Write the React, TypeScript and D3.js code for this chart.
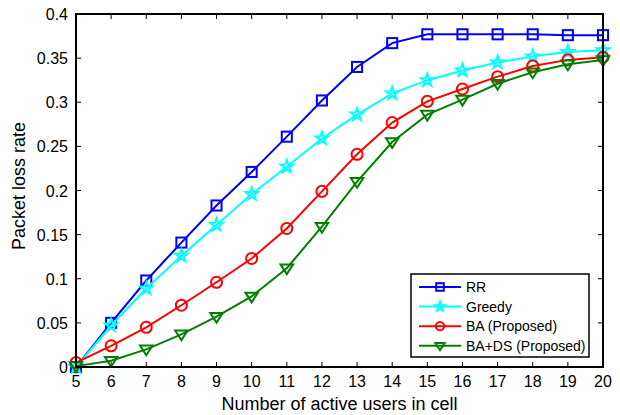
import React, { useRef, useEffect } from "react";
import * as d3 from "d3";

// data
const users = [5, 6, 7, 8, 9, 10, 11, 12, 13, 14, 15, 16, 17, 18, 19, 20];
const rr = [0, 0.05, 0.098, 0.141, 0.183, 0.221, 0.261, 0.302, 0.34, 0.367, 0.377, 0.377, 0.377, 0.377, 0.376, 0.376];
const greedy = [0, 0.047, 0.089, 0.126, 0.161, 0.196, 0.227, 0.259, 0.286, 0.31, 0.325, 0.336, 0.345, 0.352, 0.357, 0.359];
const ba = [0.005, 0.024, 0.045, 0.07, 0.096, 0.123, 0.157, 0.199, 0.241, 0.277, 0.301, 0.315, 0.329, 0.341, 0.348, 0.351];
const bads = [0.001, 0.007, 0.02, 0.037, 0.057, 0.08, 0.112, 0.159, 0.21, 0.255, 0.286, 0.303, 0.321, 0.334, 0.343, 0.348];
const seriesNames = ["RR", "Greedy", "BA (Proposed)", "BA+DS (Proposed)"];
const yTicks = [0, 0.05, 0.1, 0.15, 0.2, 0.25, 0.3, 0.35, 0.4];

const colors = ["#0000ff", "#00ffff", "#ff0000", "#008000"];
const shapes = ["square", "star", "circle", "triangle"];

const W = 620, H = 415;
const m = { left: 76, right: 603, top: 14, bottom: 367 };

// draws one marker at (x, y), s is roughly the marker width
function marker(g, shape, x, y, color, s) {
  if (shape === "square") {
    g.append("rect").attr("x", x - s * 0.42).attr("y", y - s * 0.42)
      .attr("width", s * 0.84).attr("height", s * 0.84)
      .attr("fill", "none").attr("stroke", color).attr("stroke-width", 2);
  } else if (shape === "circle") {
    g.append("circle").attr("cx", x).attr("cy", y).attr("r", s * 0.46)
      .attr("fill", "none").attr("stroke", color).attr("stroke-width", 2);
  } else if (shape === "triangle") {
    const r = s * 0.52;
    g.append("path")
      .attr("d", `M${x - r},${y - r * 0.6}L${x + r},${y - r * 0.6}L${x},${y + r * 0.95}Z`)
      .attr("fill", "none").attr("stroke", color).attr("stroke-width", 2);
  } else {
    // five point star, thin like matlab's pentagram
    const ro = s * 0.55, ri = ro * 0.4;
    const pts = d3.range(10).map((i) => {
      const a = -Math.PI / 2 + (i * Math.PI) / 5;
      const r = i % 2 ? ri : ro;
      return [x + r * Math.cos(a), y + r * Math.sin(a)];
    });
    g.append("path").attr("d", "M" + pts.join("L") + "Z")
      .attr("fill", "none").attr("stroke", color).attr("stroke-width", 2);
  }
}

const App = () => {
  const svgRef = useRef(null);

  useEffect(() => {
    const svg = d3.select(svgRef.current);
    svg.selectAll("*").remove();

    const x = d3.scaleLinear().domain([5, 20]).range([m.left, m.right]);
    const y = d3.scaleLinear().domain([0, 0.4]).range([m.bottom, m.top]);

    const font = "'Liberation Sans', Arial, sans-serif";

    // ticks on all four sides, pointing inwards
    const axes = svg.append("g").attr("stroke", "#000").attr("stroke-width", 1);
    users.forEach((u) => {
      axes.append("line").attr("x1", x(u)).attr("x2", x(u)).attr("y1", m.bottom).attr("y2", m.bottom - 5);
      axes.append("line").attr("x1", x(u)).attr("x2", x(u)).attr("y1", m.top).attr("y2", m.top + 5);
    });
    yTicks.forEach((t) => {
      axes.append("line").attr("x1", m.left).attr("x2", m.left + 5).attr("y1", y(t)).attr("y2", y(t));
      axes.append("line").attr("x1", m.right).attr("x2", m.right - 5).attr("y1", y(t)).attr("y2", y(t));
    });

    // tick labels
    const lbl = svg.append("g").attr("font-family", font).attr("font-size", 16).attr("fill", "#000");
    users.forEach((u) => {
      lbl.append("text").attr("x", x(u)).attr("y", m.bottom + 20).attr("text-anchor", "middle").text(u);
    });
    yTicks.forEach((t) => {
      lbl.append("text").attr("x", m.left - 8).attr("y", y(t) + 6).attr("text-anchor", "end").text(String(t));
    });

    // series
    const all = [rr, greedy, ba, bads];
    const line = d3.line().x((d, i) => x(users[i])).y((d) => y(d));
    all.forEach((vals, k) => {
      const g = svg.append("g");
      g.append("path").datum(vals).attr("d", line).attr("fill", "none")
        .attr("stroke", colors[k]).attr("stroke-width", 2);
      vals.forEach((v, i) => marker(g, shapes[k], x(users[i]), y(v), colors[k], 12));
    });

    // frame
    svg.append("rect").attr("x", m.left).attr("y", m.top)
      .attr("width", m.right - m.left).attr("height", m.bottom - m.top)
      .attr("fill", "none").attr("stroke", "#000").attr("stroke-width", 2);

    // legend
    const lg = svg.append("g");
    lg.append("rect").attr("x", 411).attr("y", 274).attr("width", 178).attr("height", 83)
      .attr("fill", "#fff").attr("stroke", "#000").attr("stroke-width", 1.5);
    seriesNames.forEach((name, k) => {
      const ly = 287 + k * 19.6;
      lg.append("line").attr("x1", 419).attr("x2", 461).attr("y1", ly).attr("y2", ly)
        .attr("stroke", colors[k]).attr("stroke-width", 2);
      marker(lg, shapes[k], 440, ly, colors[k], 9);
      lg.append("text").attr("x", 466).attr("y", ly + 5).attr("font-family", font)
        .attr("font-size", 14).text(name);
    });

    // axis titles
    svg.append("text").attr("x", (m.left + m.right) / 2).attr("y", 410)
      .attr("text-anchor", "middle").attr("font-family", font).attr("font-size", 18)
      .text("Number of active users in cell");
    svg.append("text").attr("transform", `translate(25,186) rotate(-90)`)
      .attr("text-anchor", "middle").attr("font-family", font).attr("font-size", 18)
      .text("Packet loss rate");
  }, []);

  return (
    <svg ref={svgRef} width={W} height={H}
      style={{ position: "absolute", left: 0, top: 0, background: "#fff" }} />
  );
};

export default App;
